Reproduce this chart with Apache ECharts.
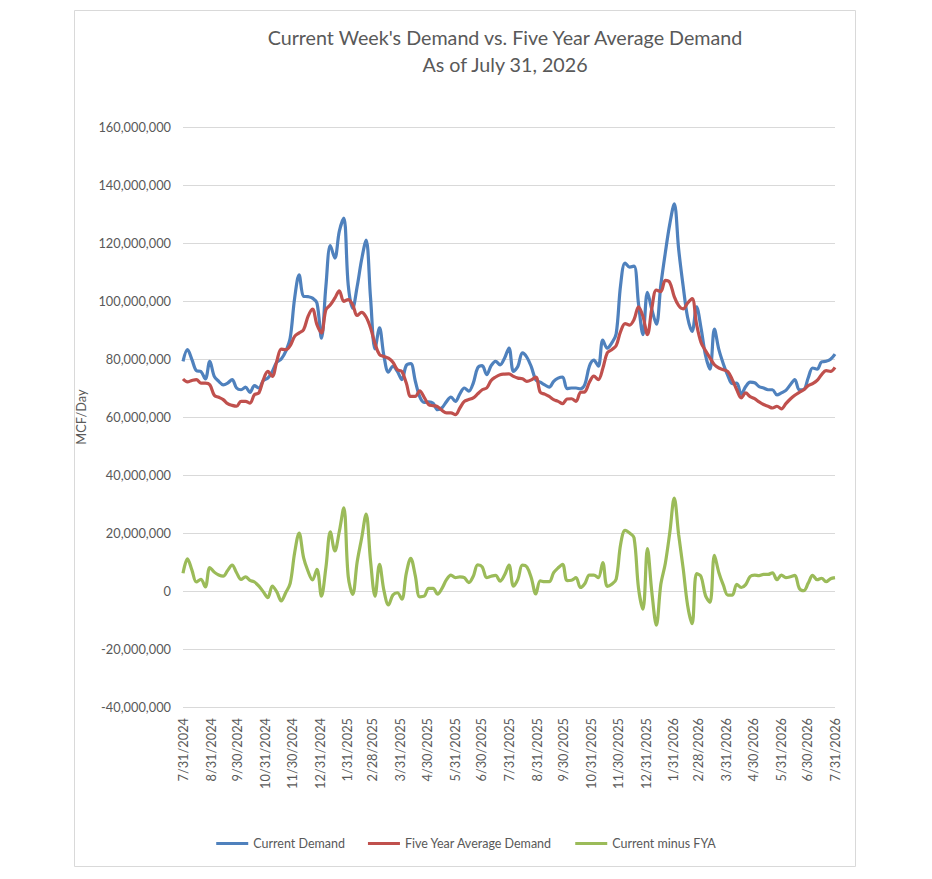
<!DOCTYPE html>
<html>
<head>
<meta charset="utf-8">
<title>Current Week's Demand vs. Five Year Average Demand</title>
<script src="https://cdn.jsdelivr.net/npm/echarts@6.0.0/dist/echarts.min.js"></script>
<style>
  html, body { margin: 0; padding: 0; background: #ffffff; }
  #chart { width: 932px; height: 879px; }
</style>
</head>
<body>
<div id="chart"></div>
<script>
// one reading every 5 days, starting 7/31/2024 (values in million MCF/day)
var stepDays = 5;

// month-end tick positions (days since 7/31/2024) and their labels
var monthEndDays = [0, 31, 61, 92, 122, 153, 184, 212, 243, 273, 304, 334, 365,
  396, 426, 457, 487, 518, 549, 577, 608, 638, 669, 699, 730];
var monthEndLabels = ['7/31/2024', '8/31/2024', '9/30/2024', '10/31/2024', '11/30/2024',
  '12/31/2024', '1/31/2025', '2/28/2025', '3/31/2025', '4/30/2025', '5/31/2025',
  '6/30/2025', '7/31/2025', '8/31/2025', '9/30/2025', '10/31/2025', '11/30/2025',
  '12/31/2025', '1/31/2026', '2/28/2026', '3/31/2026', '4/30/2026', '5/31/2026',
  '6/30/2026', '7/31/2026'];

var currentDemand = [
  79.2, 83.2, 79.8, 76.0, 75.7, 73.1, 79.2, 74.0, 72.3, 71.1,
  71.7, 72.9, 70.0, 69.4, 70.3, 68.5, 70.8, 70.0, 72.6, 73.4,
  75.7, 78.9, 80.0, 82.6, 87.2, 101.0, 109.0, 101.6, 101.5, 101.0,
  99.3, 87.2, 105.1, 119.1, 114.8, 124.0, 128.6, 105.5, 97.5, 105.0,
  114.3, 121.0, 101.0, 83.5, 90.7, 81.0, 75.5, 77.5, 75.7, 72.9,
  77.8, 78.4, 72.5, 67.0, 65.0, 65.2, 64.8, 62.5, 63.2, 65.3,
  66.9, 65.4, 68.0, 70.0, 68.9, 71.7, 77.0, 77.7, 74.6, 77.7,
  79.2, 78.0, 80.3, 83.8, 75.7, 77.5, 82.1, 80.6, 77.3, 72.8,
  72.0, 71.1, 70.3, 72.3, 73.4, 73.8, 69.8, 70.0, 70.0, 69.7,
  71.3, 77.5, 79.6, 77.5, 86.5, 83.7, 85.5, 88.7, 105.6, 113.1,
  111.7, 112.0, 99.0, 88.4, 103.0, 97.0, 92.0, 105.5, 116.6, 126.5,
  133.5, 117.7, 105.1, 94.3, 89.5, 98.0, 90.7, 81.3, 76.5, 90.3,
  83.2, 78.3, 74.3, 71.5, 71.7, 67.8, 70.5, 72.0, 71.8, 70.5,
  70.0, 69.4, 69.4, 67.6, 68.3, 69.2, 71.1, 72.9, 69.4, 69.5,
  73.5, 76.9, 76.5, 79.0, 79.2, 79.9, 81.7
];

var fiveYearAvg = [
  73.1, 72.1, 72.6, 72.9, 71.7, 71.7, 71.1, 67.5, 66.8, 66.0,
  64.6, 64.0, 63.7, 65.4, 65.4, 64.8, 67.7, 68.3, 72.9, 75.7,
  74.0, 79.2, 83.4, 83.2, 84.6, 87.8, 89.0, 90.1, 94.7, 97.2,
  91.8, 89.0, 97.0, 98.7, 101.0, 103.5, 99.9, 100.5, 98.7, 95.0,
  96.1, 94.5, 90.7, 85.3, 81.5, 80.9, 80.3, 78.9, 76.3, 75.7,
  71.7, 67.1, 67.1, 69.0, 66.8, 64.3, 63.9, 63.6, 62.3, 61.4,
  61.4, 60.8, 63.1, 65.4, 66.0, 66.6, 68.0, 69.4, 70.0, 72.6,
  73.8, 74.6, 74.8, 74.9, 74.0, 73.4, 73.2, 72.3, 72.8, 73.8,
  68.5, 67.9, 67.1, 66.0, 65.4, 64.6, 66.2, 66.3, 65.4, 68.5,
  68.7, 72.0, 74.1, 72.9, 76.7, 82.1, 83.2, 84.6, 89.5, 92.2,
  91.7, 93.6, 98.0, 94.7, 88.4, 97.6, 103.8, 103.2, 107.1, 106.4,
  101.5, 98.4, 97.3, 99.3, 100.8, 92.0, 85.7, 82.9, 80.4, 78.0,
  76.9, 76.3, 75.7, 72.9, 69.4, 66.6, 68.3, 67.0, 66.3, 65.2,
  64.3, 63.7, 63.1, 63.7, 62.8, 64.6, 66.2, 67.5, 68.5, 69.4,
  70.8, 71.5, 72.6, 74.6, 76.0, 75.7, 77.1
];

var currentMinusFya = [
  6.1, 11.1, 7.2, 3.1, 4.0, 1.4, 8.1, 6.5, 5.5, 5.1,
  7.1, 8.9, 6.3, 4.0, 4.9, 3.7, 3.1, 1.7, -0.3, -2.3,
  1.7, -0.3, -3.4, -0.6, 2.6, 13.2, 20.0, 11.5, 6.8, 3.8,
  7.5, -1.8, 8.1, 20.4, 13.8, 20.5, 28.7, 5.0, -1.2, 10.0,
  18.2, 26.5, 10.3, -1.8, 9.2, 0.1, -4.8, -1.4, -0.6, -2.8,
  6.1, 11.3, 5.4, -2.0, -1.8, 0.9, 0.9, -1.1, 0.9, 3.9,
  5.5, 4.6, 4.9, 4.6, 2.9, 5.1, 9.0, 8.3, 4.6, 5.1,
  5.4, 3.4, 5.5, 8.9, 1.7, 4.1, 8.9, 8.3, 4.5, -1.0,
  3.5, 3.2, 3.2, 6.3, 8.0, 9.2, 3.6, 3.7, 4.6, 1.2,
  2.6, 5.5, 5.5, 4.6, 9.8, 1.6, 2.3, 4.1, 16.1, 20.9,
  20.0, 18.4, 1.0, -6.3, 14.6, -0.6, -11.8, 2.3, 9.5, 20.1,
  32.0, 19.3, 7.8, -5.0, -11.3, 6.0, 5.0, -1.6, -3.9, 12.3,
  6.3, 2.0, -1.4, -1.4, 2.3, 1.2, 2.2, 5.0, 5.5, 5.3,
  5.7, 5.7, 6.3, 3.9, 5.5, 4.6, 4.9, 5.4, 0.9, 0.1,
  2.7, 5.4, 3.9, 4.4, 3.2, 4.2, 4.6
];

var yTicks = { min: -40000000, max: 160000000, interval: 20000000 };

function toPoints(arr) {
  return arr.map(function (v, i) {
    return [i * stepDays, v * 1000000];
  });
}

var myChart = echarts.init(document.getElementById('chart'), null, { renderer: 'svg' });

var textColor = '#595959';
var fontFam = 'Lato, "Open Sans", sans-serif';

myChart.setOption({
  animation: false,
  backgroundColor: '#ffffff',
  graphic: [
    {
      type: 'rect',
      shape: { x: 74.5, y: 10.5, width: 781, height: 856 },
      style: { fill: 'none', stroke: '#d9d9d9', lineWidth: 1 },
      silent: true
    },
    {
      type: 'text',
      x: 505, y: 37,
      style: {
        text: "Current Week's Demand vs. Five Year Average Demand",
        fill: textColor, font: '19.7px ' + fontFam,
        textAlign: 'center', textVerticalAlign: 'middle'
      }
    },
    {
      type: 'text',
      x: 505, y: 64,
      style: {
        text: 'As of July 31, 2026',
        fill: textColor, font: '19.7px ' + fontFam,
        textAlign: 'center', textVerticalAlign: 'middle'
      }
    }
  ],
  grid: { left: 183, right: 97, top: 127, bottom: 172 },
  legend: {
    left: 'center',
    top: 832,
    icon: 'rect',
    itemWidth: 32,
    itemHeight: 3,
    itemGap: 23,
    textStyle: { color: textColor, fontSize: 12.5, fontFamily: fontFam },
    data: ['Current Demand', 'Five Year Average Demand', 'Current minus FYA']
  },
  xAxis: {
    type: 'value',
    min: 0,
    max: 730,
    axisLine: { show: false },
    axisTick: { show: false },
    splitLine: { show: false },
    axisLabel: {
      customValues: monthEndDays,
      rotate: 90,
      margin: 11,
      color: textColor,
      fontSize: 12.8,
      fontFamily: fontFam,
      formatter: function (v) {
        var k = monthEndDays.indexOf(Math.round(v));
        return k >= 0 ? monthEndLabels[k] : '';
      }
    }
  },
  yAxis: {
    type: 'value',
    min: yTicks.min,
    max: yTicks.max,
    interval: yTicks.interval,
    name: 'MCF/Day',
    nameLocation: 'middle',
    nameGap: 90,
    nameTextStyle: { color: textColor, fontSize: 12.8, fontFamily: fontFam },
    axisLine: { show: false },
    axisTick: { show: false },
    splitLine: { lineStyle: { color: '#d9d9d9', width: 1 } },
    axisLabel: {
      margin: 12,
      color: textColor,
      fontSize: 12.8,
      fontFamily: fontFam,
      formatter: function (v) {
        return v.toLocaleString('en-US');
      }
    }
  },
  series: [
    {
      name: 'Current Demand',
      type: 'line',
      data: toPoints(currentDemand),
      showSymbol: false,
      smooth: 0.35,
      lineStyle: { width: 3.2, color: '#4F81BD' },
      itemStyle: { color: '#4F81BD' }
    },
    {
      name: 'Five Year Average Demand',
      type: 'line',
      data: toPoints(fiveYearAvg),
      showSymbol: false,
      smooth: 0.35,
      lineStyle: { width: 3.2, color: '#C0504D' },
      itemStyle: { color: '#C0504D' }
    },
    {
      name: 'Current minus FYA',
      type: 'line',
      data: toPoints(currentMinusFya),
      showSymbol: false,
      smooth: 0.35,
      lineStyle: { width: 3.2, color: '#9BBB59' },
      itemStyle: { color: '#9BBB59' }
    }
  ]
});
</script>
</body>
</html>
